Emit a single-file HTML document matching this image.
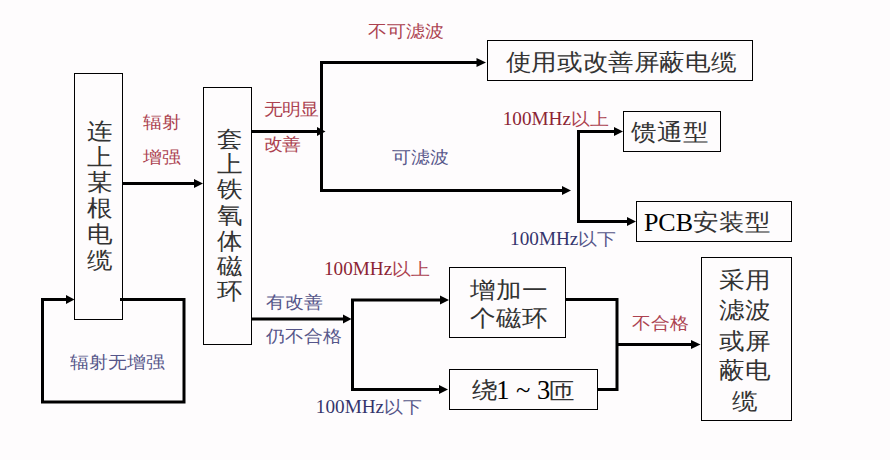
<!DOCTYPE html>
<html>
<head>
<meta charset="utf-8">
<style>
html,body{margin:0;padding:0;background:#fefcfd;}
body{width:890px;height:460px;position:relative;overflow:hidden;font-family:"Liberation Serif",serif;color:#111;}
svg{position:absolute;left:0;top:0;}
.t{position:absolute;white-space:nowrap;line-height:1;transform-origin:0 0;}
.s{transform:scaleY(0.9);}
.blk{font-size:26px;color:#333333;}
.k{color:#000;}
.red{color:#ac4250;font-size:19px;}
.blu{color:#56568a;font-size:19px;}
.col{text-align:center;}
.red .k,.k.red{color:#8c2434;}
.blu .k,.k.blu{color:#34346c;}
.sc{display:inline-block;transform-origin:0 80%;transform:scaleY(0.9);}
</style>
</head>
<body>
<svg width="890" height="460" viewBox="0 0 890 460">
<g fill="none" stroke="#000" stroke-width="1">
<rect x="74.5" y="73.5" width="48" height="246"/>
<rect x="203.5" y="87.5" width="48" height="257"/>
<rect x="487.5" y="40.5" width="265" height="40"/>
<rect x="623.5" y="111.5" width="97" height="40"/>
<rect x="636.5" y="201.5" width="155" height="40"/>
<rect x="449.5" y="267.5" width="116" height="70"/>
<rect x="449.5" y="369.5" width="148" height="40"/>
<rect x="701.5" y="257.5" width="90" height="163"/>
</g>
<g fill="none" stroke="#000" stroke-width="3" stroke-linejoin="miter">
<path d="M122 183.5H196"/>
<path d="M120 299.5H184V402H42.5V299.5H67"/>
<path d="M251 131.5H318"/>
<path d="M477 62.5H321.5V190.5H563"/>
<path d="M615 131.5H578.5V221.5H628"/>
<path d="M251 319H344"/>
<path d="M440 300H352.5V389.5H440"/>
<path d="M565.5 299.5H617V389.5H597.5"/>
<path d="M617 344.5H692"/>
</g>
<g fill="#000">
<path d="M194 179L203 183.5L194 188Z"/>
<path d="M66 295L74.5 299.5L66 304Z"/>
<path d="M317 127L325.5 131.5L317 136Z"/>
<path d="M476.5 58L486 62.5L476.5 67Z"/>
<path d="M562 186L571 190.5L562 195Z"/>
<path d="M614 127L623 131.5L614 136Z"/>
<path d="M627 217L636 221.5L627 226Z"/>
<path d="M343 314.5L351.5 319L343 323.5Z"/>
<path d="M440 295.5L449 300L440 304.5Z"/>
<path d="M439 385L448 389.5L439 394Z"/>
<path d="M691 340L700.5 344.5L691 349Z"/>
</g>
</svg>
<div id="c1" class="t blk col s" style="left:75.35px;top:119.30px;width:49px;line-height:28.67px;">连<br>上<br>某<br>根<br>电<br>缆</div>
<div id="c2" class="t blk col s" style="left:203.50px;top:127.00px;width:52px;line-height:28.22px;">套<br>上<br>铁<br>氧<br>体<br>磁<br>环</div>
<div id="b3" class="t blk s" style="left:505.80px;top:50.65px;font-size:25.4px;letter-spacing:0.6px;">使用或改善屏蔽电缆</div>
<div id="b4" class="t blk s" style="left:631.25px;top:120.55px;">馈通型</div>
<div id="pcb" class="t k" style="left:643.90px;top:210.25px;font-size:26px;">PCB</div>
<div id="azx" class="t blk s" style="left:693.25px;top:211.15px;">安装型</div>
<div id="b6" class="t blk col s" style="left:450.10px;top:276.20px;width:117px;line-height:31.89px;">增加一<br>个磁环</div>
<div id="rao" class="t blk s" style="left:472.10px;top:378.70px;">绕</div>
<div id="n13" class="t k" style="left:496.15px;top:376.75px;font-size:26.5px;">1 ~ 3</div>
<div id="za" class="t blk s" style="left:549.15px;top:380.10px;">匝</div>
<div id="b8" class="t blk col s" style="left:700.40px;top:264.80px;width:90px;line-height:33.78px;">采用<br>滤波<br>或屏<br>蔽电<br>缆</div>
<div id="l1" class="t red s" style="left:142.55px;top:104.90px;line-height:38.89px;">辐射<br>增强</div>
<div id="l2" class="t red s" style="left:264.20px;top:92.40px;line-height:38.89px;font-size:18.4px;">无明显<br>改善</div>
<div id="l3" class="t red s" style="left:367.55px;top:22.90px;">不可滤波</div>
<div id="l4" class="t blu s" style="left:392.10px;top:148.90px;">可滤波</div>
<div id="l5" class="t red" style="left:502.70px;top:108.50px;font-size:19.2px;"><span class="k">100MHz</span><span class="sc">以上</span></div>
<div id="l6" class="t blu" style="left:510.10px;top:228.75px;font-size:19.2px;"><span class="k">100MHz</span><span class="sc">以下</span></div>
<div id="l7" class="t blu s" style="left:265.80px;top:284.65px;line-height:38.00px;">有改善<br>仍不合格</div>
<div id="l8" class="t red" style="left:323.95px;top:258.60px;font-size:19.2px;"><span class="k">100MHz</span><span class="sc">以上</span></div>
<div id="l9" class="t blu" style="left:315.85px;top:397.40px;font-size:19.2px;"><span class="k">100MHz</span><span class="sc">以下</span></div>
<div id="l10" class="t red s" style="left:631.60px;top:314.50px;">不合格</div>
<div id="l11" class="t blu s" style="left:70.30px;top:353.50px;">辐射无增强</div>
</body>
</html>
